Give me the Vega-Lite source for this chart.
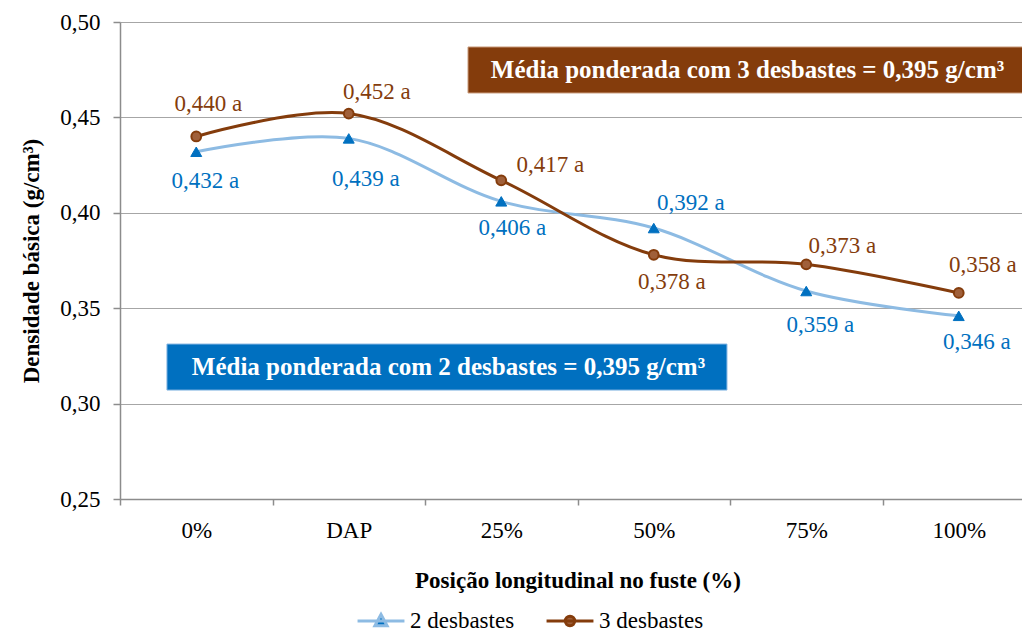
{
  "$schema": "https://vega.github.io/schema/vega-lite/v6.json",
  "width": 915,
  "height": 477,
  "autosize": {"type": "none"},
  "padding": {"left": 120, "top": 22, "right": 0, "bottom": 135},
  "background": "white",
  "config": {
    "font": "Liberation Serif",
    "view": {"stroke": null},
    "text": {"font": "Liberation Serif", "fontSize": 23, "baseline": "middle", "align": "center"},
    "axis": {
      "labelFont": "Liberation Serif",
      "labelFontSize": 23,
      "labelColor": "#000000",
      "titleFont": "Liberation Serif",
      "titleFontSize": 23,
      "titleFontWeight": "bold",
      "titleColor": "#000000",
      "domainColor": "#8c8c8c",
      "domainWidth": 1.5,
      "tickColor": "#8c8c8c",
      "tickWidth": 1.5,
      "gridColor": "#a6a6a6",
      "gridWidth": 1.2
    }
  },
  "datasets": {
    "dens": [
      {"pos": "0%", "serie": "2 desbastes", "v": 0.432, "sig": "a"},
      {"pos": "DAP", "serie": "2 desbastes", "v": 0.439, "sig": "a"},
      {"pos": "25%", "serie": "2 desbastes", "v": 0.406, "sig": "a"},
      {"pos": "50%", "serie": "2 desbastes", "v": 0.392, "sig": "a"},
      {"pos": "75%", "serie": "2 desbastes", "v": 0.359, "sig": "a"},
      {"pos": "100%", "serie": "2 desbastes", "v": 0.346, "sig": "a"},
      {"pos": "0%", "serie": "3 desbastes", "v": 0.440, "sig": "a"},
      {"pos": "DAP", "serie": "3 desbastes", "v": 0.452, "sig": "a"},
      {"pos": "25%", "serie": "3 desbastes", "v": 0.417, "sig": "a"},
      {"pos": "50%", "serie": "3 desbastes", "v": 0.378, "sig": "a"},
      {"pos": "75%", "serie": "3 desbastes", "v": 0.373, "sig": "a"},
      {"pos": "100%", "serie": "3 desbastes", "v": 0.358, "sig": "a"}
    ],
    "notas": [
      {"serie": "3 desbastes", "txt": "Média ponderada com 3 desbastes = 0,395 g/cm³"},
      {"serie": "2 desbastes", "txt": "Média ponderada com 2 desbastes = 0,395 g/cm³"}
    ]
  },
  "layer": [
    {
      "data": {"name": "dens"},
      "transform": [
        {"calculate": "replace(format(datum.v, '.3f'), '.', ',') + ' ' + datum.sig", "as": "lab"}
      ],
      "encoding": {
        "x": {
          "field": "pos",
          "type": "ordinal",
          "sort": ["0%", "DAP", "25%", "50%", "75%", "100%"],
          "bandPosition": 0.5,
          "scale": {"type": "band", "paddingInner": 0, "paddingOuter": 0},
          "axis": {
            "title": "Posição longitudinal no fuste (%)",
            "labelAngle": 0,
            "tickBand": "extent",
            "grid": false,
            "tickSize": 6,
            "labelPadding": 14,
            "titlePadding": 27
          }
        },
        "y": {
          "field": "v",
          "type": "quantitative",
          "scale": {"domain": [0.25, 0.5], "nice": false, "zero": false},
          "axis": {
            "title": "Densidade básica (g/cm³)",
            "values": [0.25, 0.3, 0.35, 0.4, 0.45, 0.5],
            "labelExpr": "replace(format(datum.value, '.2f'), '.', ',')",
            "tickSize": 7,
            "labelPadding": 13,
            "titlePadding": 16,
            "grid": true
          }
        }
      },
      "layer": [
        {
          "transform": [{"filter": "datum.serie == '2 desbastes'"}],
          "mark": {"type": "line", "interpolate": "catmull-rom", "stroke": "#8dbbe3", "strokeWidth": 3}
        },
        {
          "transform": [{"filter": "datum.serie == '3 desbastes'"}],
          "mark": {"type": "line", "interpolate": "catmull-rom", "stroke": "#843c0c", "strokeWidth": 3}
        },
        {
          "transform": [{"filter": "datum.serie == '2 desbastes'"}],
          "mark": {"type": "point", "shape": "triangle-up", "size": 120, "filled": true, "fill": "#0070c0", "stroke": "#0070c0", "strokeWidth": 1, "opacity": 1}
        },
        {
          "transform": [{"filter": "datum.serie == '3 desbastes'"}],
          "mark": {"type": "point", "shape": "circle", "size": 95, "filled": true, "fill": "#a0603a", "stroke": "#843c0c", "strokeWidth": 2, "opacity": 1}
        },
        {
          "transform": [{"filter": "false"}],
          "mark": {"type": "point", "opacity": 1},
          "encoding": {
            "shape": {
              "field": "serie", "type": "nominal", "title": null,
              "scale": {"domain": ["2 desbastes", "3 desbastes"], "range": ["M-1,0H1M-0.26,0.2L0,-0.28L0.26,0.2Z", "M-1,0H1M0.2,0A0.2,0.2,0,1,1,-0.2,0A0.2,0.2,0,1,1,0.2,0Z"]},
              "legend": {
                "orient": "none", "legendX": 236, "legendY": 574, "direction": "horizontal",
                "padding": 0, "labelFont": "Liberation Serif", "labelFontSize": 23, "labelColor": "#000000",
                "symbolSize": 2200, "symbolStrokeWidth": 3, "labelOffset": 4, "columnPadding": 25
              }
            },
            "fill": {
              "field": "serie", "type": "nominal", "title": null,
              "scale": {"domain": ["2 desbastes", "3 desbastes"], "range": ["#0070c0", "#a0603a"]}
            },
            "stroke": {
              "field": "serie", "type": "nominal", "title": null,
              "scale": {"domain": ["2 desbastes", "3 desbastes"], "range": ["#8dbbe3", "#843c0c"]}
            }
          }
        },
        {"transform": [{"filter": "datum.serie == '3 desbastes' && datum.pos == '0%'"}], "mark": {"type": "text", "dx": 12, "dy": -32, "fill": "#843c0c"}, "encoding": {"text": {"field": "lab"}}},
        {"transform": [{"filter": "datum.serie == '3 desbastes' && datum.pos == 'DAP'"}], "mark": {"type": "text", "dx": 28, "dy": -22, "fill": "#843c0c"}, "encoding": {"text": {"field": "lab"}}},
        {"transform": [{"filter": "datum.serie == '3 desbastes' && datum.pos == '25%'"}], "mark": {"type": "text", "dx": 49, "dy": -15, "fill": "#843c0c"}, "encoding": {"text": {"field": "lab"}}},
        {"transform": [{"filter": "datum.serie == '3 desbastes' && datum.pos == '50%'"}], "mark": {"type": "text", "dx": 18, "dy": 27, "fill": "#843c0c"}, "encoding": {"text": {"field": "lab"}}},
        {"transform": [{"filter": "datum.serie == '3 desbastes' && datum.pos == '75%'"}], "mark": {"type": "text", "dx": 36, "dy": -18, "fill": "#843c0c"}, "encoding": {"text": {"field": "lab"}}},
        {"transform": [{"filter": "datum.serie == '3 desbastes' && datum.pos == '100%'"}], "mark": {"type": "text", "dx": 24, "dy": -28, "fill": "#843c0c"}, "encoding": {"text": {"field": "lab"}}},
        {"transform": [{"filter": "datum.serie == '2 desbastes' && datum.pos == '0%'"}], "mark": {"type": "text", "dx": 9, "dy": 29, "fill": "#0070c0"}, "encoding": {"text": {"field": "lab"}}},
        {"transform": [{"filter": "datum.serie == '2 desbastes' && datum.pos == 'DAP'"}], "mark": {"type": "text", "dx": 17, "dy": 41, "fill": "#0070c0"}, "encoding": {"text": {"field": "lab"}}},
        {"transform": [{"filter": "datum.serie == '2 desbastes' && datum.pos == '25%'"}], "mark": {"type": "text", "dx": 11, "dy": 27, "fill": "#0070c0"}, "encoding": {"text": {"field": "lab"}}},
        {"transform": [{"filter": "datum.serie == '2 desbastes' && datum.pos == '50%'"}], "mark": {"type": "text", "dx": 37, "dy": -25, "fill": "#0070c0"}, "encoding": {"text": {"field": "lab"}}},
        {"transform": [{"filter": "datum.serie == '2 desbastes' && datum.pos == '75%'"}], "mark": {"type": "text", "dx": 14, "dy": 34, "fill": "#0070c0"}, "encoding": {"text": {"field": "lab"}}},
        {"transform": [{"filter": "datum.serie == '2 desbastes' && datum.pos == '100%'"}], "mark": {"type": "text", "dx": 18, "dy": 26, "fill": "#0070c0"}, "encoding": {"text": {"field": "lab"}}}
      ]
    },
    {
      "data": {"name": "notas"},
      "layer": [
        {
          "transform": [{"filter": "datum.serie == '3 desbastes'"}],
          "mark": {"type": "rect", "fill": "#843c0c", "stroke": "#c89a7a", "strokeWidth": 1},
          "encoding": {
            "x": {"datum": 2.282, "type": "quantitative", "scale": {"domain": [0, 6], "nice": false, "zero": false}, "axis": null},
            "x2": {"datum": 5.95},
            "y": {"datum": 0.4628, "type": "quantitative"},
            "y2": {"datum": 0.4869}
          }
        },
        {
          "transform": [{"filter": "datum.serie == '2 desbastes'"}],
          "mark": {"type": "rect", "fill": "#0070c0", "stroke": "#7fb2e0", "strokeWidth": 1},
          "encoding": {
            "x": {"datum": 0.308, "type": "quantitative", "axis": null},
            "x2": {"datum": 3.98},
            "y": {"datum": 0.3071, "type": "quantitative"},
            "y2": {"datum": 0.3312}
          }
        },
        {
          "transform": [{"filter": "datum.serie == '3 desbastes'"}],
          "mark": {"type": "text", "fill": "#ffffff", "fontWeight": "bold", "fontSize": 25},
          "encoding": {
            "x": {"datum": 4.115, "type": "quantitative", "axis": null},
            "y": {"datum": 0.4748, "type": "quantitative"},
            "text": {"field": "txt"}
          }
        },
        {
          "transform": [{"filter": "datum.serie == '2 desbastes'"}],
          "mark": {"type": "text", "fill": "#ffffff", "fontWeight": "bold", "fontSize": 25},
          "encoding": {
            "x": {"datum": 2.154, "type": "quantitative", "axis": null},
            "y": {"datum": 0.3192, "type": "quantitative"},
            "text": {"field": "txt"}
          }
        }
      ]
    }
  ],
  "resolve": {"scale": {"x": "independent"}}
}
